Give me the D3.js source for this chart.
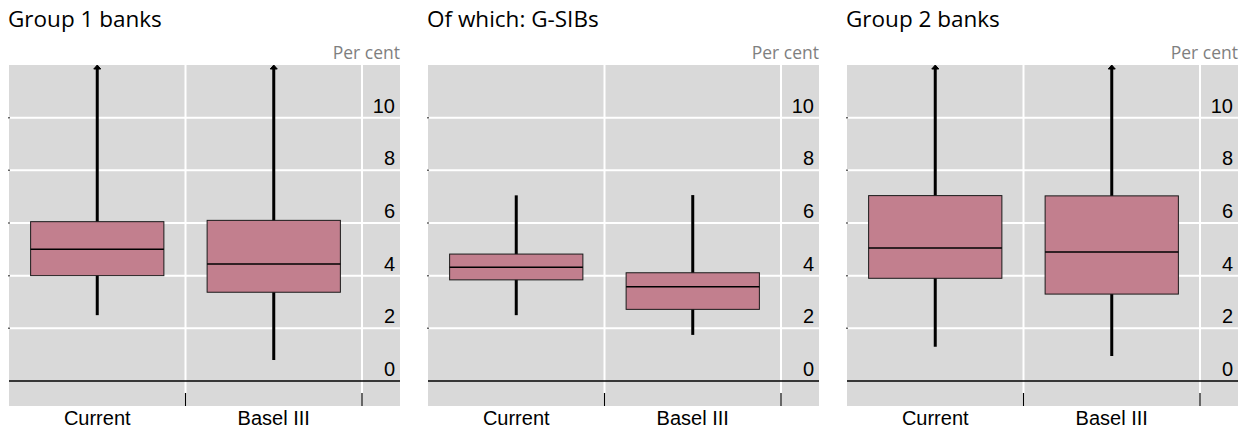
<!DOCTYPE html>
<html>
<head>
<meta charset="utf-8">
<script src="https://cdn.jsdelivr.net/npm/d3@7"></script>
<style>
  body { margin: 0; background: #fff; }
  .title { font-family: "Open Sans", "Noto Sans", sans-serif; font-size: 22.5px; fill: #000; }
  .unit { font-family: "Open Sans", "Noto Sans", sans-serif; font-size: 17.5px; fill: #7f7f7f; }
  .tick-label { font-family: "Liberation Sans", Arial, sans-serif; font-size: 20px; fill: #000; }
</style>
</head>
<body>
<div id="chart"></div>
<script>
// data
var panels = ["Group 1 banks", "Of which: G-SIBs", "Group 2 banks"];
var categories = ["Current", "Basel III"];
var yTicks = [0, 2, 4, 6, 8, 10];
// per panel, one entry per category; max above 12 runs off the top (drawn with an arrow)
var whiskerLow  = [[2.5, 0.8], [2.5, 1.75], [1.3, 0.95]];
var quartile1   = [[4.0, 3.37], [3.84, 2.72], [3.9, 3.3]];
var medians     = [[5.0, 4.44], [4.32, 3.58], [5.05, 4.9]];
var quartile3   = [[6.05, 6.1], [4.82, 4.11], [7.04, 7.03]];
var whiskerHigh = [[15, 15], [7.05, 7.06], [15, 15]];

var w = 1250, h = 436;
var panelStep = 419, plotLeft = 9, plotTop = 65, plotW = 391, plotBottom = 406, bandsW = 353;
var yMin = -0.95, yMax = 12;

var svg = d3.select("#chart").append("svg")
    .attr("width", w)
    .attr("height", h);

var yScale = d3.scaleLinear().domain([yMin, yMax]).range([plotBottom, plotTop]);

panels.forEach(function(name, p) {
  var x0 = plotLeft + p * panelStep;
  var g = svg.append("g");

  var xScale = d3.scaleBand().domain(categories).range([x0, x0 + bandsW]).padding(0);
  var boxW = xScale.bandwidth() * 0.755;

  g.append("text").attr("class", "title")
      .attr("x", x0 - 1).attr("y", 27)
      .text(name);
  g.append("text").attr("class", "unit")
      .attr("x", x0 + plotW).attr("y", 59)
      .attr("text-anchor", "end")
      .text("Per cent");

  g.append("rect")
      .attr("x", x0).attr("y", plotTop)
      .attr("width", plotW).attr("height", plotBottom - plotTop)
      .attr("fill", "#d9d9d9");

  // horizontal grid
  g.selectAll("line.hgrid")
      .data(yTicks.filter(function(d) { return d > 0; }))
      .enter().append("line")
      .attr("class", "hgrid")
      .attr("x1", x0).attr("x2", x0 + plotW)
      .attr("y1", function(d) { return yScale(d); })
      .attr("y2", function(d) { return yScale(d); })
      .attr("stroke", "#fff").attr("stroke-width", 2);

  // little left ticks
  g.selectAll("line.lt")
      .data(yTicks.filter(function(d) { return d > 0; }))
      .enter().append("line")
      .attr("class", "lt")
      .attr("x1", x0 - 1).attr("x2", x0 + 1)
      .attr("y1", function(d) { return yScale(d); })
      .attr("y2", function(d) { return yScale(d); })
      .attr("stroke", "#666").attr("stroke-width", 1.5);

  // vertical grid at band edges
  var edges = categories.map(function(c) { return xScale(c) + xScale.bandwidth(); });
  g.selectAll("line.vgrid")
      .data(edges)
      .enter().append("line")
      .attr("class", "vgrid")
      .attr("x1", function(d) { return d; }).attr("x2", function(d) { return d; })
      .attr("y1", plotTop).attr("y2", plotBottom)
      .attr("stroke", "#fff").attr("stroke-width", 2);

  // zero line
  g.append("line")
      .attr("x1", x0).attr("x2", x0 + plotW)
      .attr("y1", yScale(0)).attr("y2", yScale(0))
      .attr("stroke", "#000").attr("stroke-width", 1.5);

  // bottom tick marks
  g.selectAll("line.xt")
      .data(edges)
      .enter().append("line")
      .attr("class", "xt")
      .attr("x1", function(d) { return d; }).attr("x2", function(d) { return d; })
      .attr("y1", plotBottom - 13).attr("y2", plotBottom)
      .attr("stroke", "#000").attr("stroke-width", 1.2);

  // y tick labels
  g.selectAll("text.yl")
      .data(yTicks)
      .enter().append("text")
      .attr("class", "tick-label")
      .attr("x", x0 + plotW - 5)
      .attr("y", function(d) { return yScale(d) - 5; })
      .attr("text-anchor", "end")
      .text(function(d) { return d; });

  // category labels
  g.selectAll("text.xl")
      .data(categories)
      .enter().append("text")
      .attr("class", "tick-label")
      .attr("x", function(d) { return xScale(d) + xScale.bandwidth() / 2; })
      .attr("y", 425)
      .attr("text-anchor", "middle")
      .text(function(d) { return d; });

  // boxes
  var boxes = categories.map(function(c, i) {
    return { cat: c, lo: whiskerLow[p][i], q1: quartile1[p][i], med: medians[p][i],
             q3: quartile3[p][i], hi: whiskerHigh[p][i] };
  });

  var bx = g.selectAll("g.box").data(boxes).enter().append("g").attr("class", "box");

  bx.append("line")
      .attr("x1", function(d) { return xScale(d.cat) + xScale.bandwidth() / 2; })
      .attr("x2", function(d) { return xScale(d.cat) + xScale.bandwidth() / 2; })
      .attr("y1", function(d) { return yScale(Math.min(d.hi, yMax)) + (d.hi > yMax ? 2 : 0); })
      .attr("y2", function(d) { return yScale(d.lo); })
      .attr("stroke", "#000").attr("stroke-width", 3);

  bx.filter(function(d) { return d.hi > yMax; })
      .append("path")
      .attr("d", function(d) {
        var cx = xScale(d.cat) + xScale.bandwidth() / 2, ty = yScale(yMax);
        return "M" + (cx - 3.5) + "," + (ty + 4) + "L" + cx + "," + ty + "L" + (cx + 3.5) + "," + (ty + 4) + "Z";
      })
      .attr("fill", "#000").attr("stroke", "#000").attr("stroke-width", 1);

  bx.append("rect")
      .attr("x", function(d) { return xScale(d.cat) + (xScale.bandwidth() - boxW) / 2; })
      .attr("width", boxW)
      .attr("y", function(d) { return yScale(d.q3); })
      .attr("height", function(d) { return yScale(d.q1) - yScale(d.q3); })
      .attr("fill", "#c27f8e")
      .attr("stroke", "#1a1a1a").attr("stroke-width", 1);

  bx.append("line")
      .attr("x1", function(d) { return xScale(d.cat) + (xScale.bandwidth() - boxW) / 2; })
      .attr("x2", function(d) { return xScale(d.cat) + (xScale.bandwidth() + boxW) / 2; })
      .attr("y1", function(d) { return yScale(d.med); })
      .attr("y2", function(d) { return yScale(d.med); })
      .attr("stroke", "#000").attr("stroke-width", 1.5);
});
</script>
</body>
</html>
